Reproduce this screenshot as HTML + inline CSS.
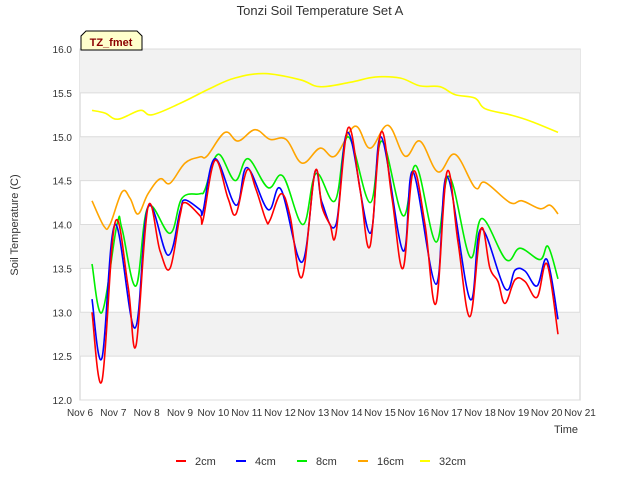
<!DOCTYPE html>
<html><head><meta charset="utf-8"><style>
body{margin:0;background:#fff;font-family:"Liberation Sans",sans-serif}
svg text{font-family:"Liberation Sans",sans-serif}
</style></head><body>
<svg id="c" width="640" height="480" xmlns="http://www.w3.org/2000/svg">
<text x="320" y="15" text-anchor="middle" font-size="13" fill="#333">Tonzi Soil Temperature Set A</text>
<g id="bands"></g><g id="grid"></g><g id="ticks"></g><g id="series"></g>
<text x="18" y="225" transform="rotate(-90 18 225)" text-anchor="middle" font-size="11" fill="#333">Soil Temperature (C)</text>
<text x="566" y="433" text-anchor="middle" font-size="11" fill="#333">Time</text>
<g>
<path d="M81,50 L81,36 L86,31 L137,31 L142,36 L142,50 Z" fill="#ffffcc" stroke="#000" stroke-width="1"/>
<text x="111" y="46" text-anchor="middle" font-size="11" font-weight="bold" fill="#8b0000">TZ_fmet</text>
</g>
<g id="legend"></g>
</svg>
<script>
const NS="http://www.w3.org/2000/svg";
const yTicks=[12.0,12.5,13.0,13.5,14.0,14.5,15.0,15.5,16.0];
const xTickLabels=["Nov 6","Nov 7","Nov 8","Nov 9","Nov 10","Nov 11","Nov 12","Nov 13","Nov 14","Nov 15","Nov 16","Nov 17","Nov 18","Nov 19","Nov 20","Nov 21"];
const xTickDays=[6,7,8,9,10,11,12,13,14,15,16,17,18,19,20,21];
const seriesNames=["2cm","4cm","8cm","16cm","32cm"];
const seriesColors=["#ff0000","#0000ff","#00ee00","#ffa500","#ffff00"];
const t2=[6.36,6.66,7.05,7.44,7.68,8.04,8.4,8.7,9.0,9.15,9.6,9.69,10.05,10.44,10.68,11.01,11.28,11.58,11.7,12.03,12.3,12.66,13.05,13.26,13.5,13.68,14.04,14.4,14.7,15.03,15.36,15.69,15.99,16.35,16.68,17.01,17.34,17.7,18.03,18.3,18.54,18.75,19.05,19.35,19.71,20.01,20.34];
const v2=[13.0,12.22,14.02,13.3,12.62,14.2,13.7,13.5,14.1,14.25,14.1,14.05,14.73,14.3,14.12,14.62,14.4,14.05,14.05,14.35,14.1,13.4,14.6,14.2,14.0,13.9,15.1,14.4,13.75,15.05,14.3,13.5,14.6,14.0,13.1,14.6,13.8,12.95,13.95,13.5,13.35,13.1,13.37,13.35,13.17,13.55,12.75];
const t4=[6.36,6.66,7.05,7.65,8.04,8.64,9.0,9.15,9.6,9.69,10.05,10.68,11.01,11.64,12.03,12.66,13.05,13.26,13.68,14.04,14.7,15.03,15.69,15.99,16.68,17.01,17.7,18.03,18.75,19.05,19.35,19.71,20.01,20.34];
const v4=[13.15,12.48,14.0,12.82,14.2,13.65,14.15,14.28,14.17,14.15,14.75,14.22,14.65,14.17,14.4,13.57,14.6,14.25,14.0,15.05,13.9,15.0,13.7,14.6,13.32,14.55,13.15,13.95,13.27,13.48,13.47,13.3,13.6,12.92];
const t8=[6.36,6.66,7.11,7.26,7.68,8.04,8.7,9.06,9.6,9.75,10.14,10.65,11.04,11.64,12.09,12.69,13.08,13.65,14.04,14.7,15.06,15.69,16.08,16.68,17.07,17.7,18.06,18.78,19.2,19.8,20.04,20.34];
const v8=[13.55,13.0,14.0,13.95,13.3,14.2,13.9,14.3,14.35,14.4,14.8,14.5,14.75,14.42,14.55,14.0,14.58,14.27,15.0,14.25,14.95,14.1,14.67,13.8,14.55,13.63,14.07,13.6,13.73,13.6,13.75,13.38];
const t16=[6.36,6.72,6.9,7.26,7.5,7.74,8.04,8.4,8.7,9.15,9.6,9.81,10.35,10.74,11.25,11.7,12.18,12.66,13.2,13.65,14.25,14.7,15.24,15.75,16.2,16.74,17.25,17.85,18.15,18.9,19.26,19.8,20.1,20.34];
const v16=[14.27,13.98,14.0,14.37,14.3,14.12,14.35,14.52,14.47,14.7,14.77,14.78,15.05,14.95,15.08,14.97,14.97,14.7,14.87,14.78,15.12,14.87,15.13,14.78,14.95,14.6,14.8,14.42,14.48,14.25,14.27,14.18,14.22,14.12];
const t32=[6.36,6.75,7.14,7.8,8.16,9.0,9.9,10.65,11.55,12.6,13.2,14.1,14.85,15.6,16.2,16.8,17.25,17.85,18.15,18.9,19.5,20.34];
const v32=[15.3,15.27,15.2,15.3,15.25,15.38,15.55,15.67,15.72,15.65,15.57,15.62,15.68,15.67,15.58,15.57,15.48,15.44,15.32,15.25,15.18,15.05];
const X0=80,X1=580,Y0=400,Y1=49,DMIN=6,DMAX=21,VMIN=12,VMAX=16;
const xs=d=>X0+(d-DMIN)/(DMAX-DMIN)*(X1-X0);
const ys=v=>Y0-(v-VMIN)/(VMAX-VMIN)*(Y0-Y1);
function mk(tag,attrs,parent){const e=document.createElementNS(NS,tag);for(const k in attrs)e.setAttribute(k,attrs[k]);parent.appendChild(e);return e;}
function smooth(p){
  let d='M'+p[0][0].toFixed(1)+','+p[0][1].toFixed(1);
  for(let i=0;i<p.length-1;i++){
    const a=p[Math.max(0,i-1)],b=p[i],c=p[i+1],e=p[Math.min(p.length-1,i+2)];
    const k=0.18;
    const c1=[b[0]+(c[0]-a[0])*k,b[1]+(c[1]-a[1])*k];
    const c2=[c[0]-(e[0]-b[0])*k,c[1]-(e[1]-b[1])*k];
    d+=' C'+c1.map(v=>v.toFixed(1)).join(',')+' '+c2.map(v=>v.toFixed(1)).join(',')+' '+c[0].toFixed(1)+','+c[1].toFixed(1);
  }
  return d;
}
const bands=document.getElementById('bands'),grid=document.getElementById('grid'),ticks=document.getElementById('ticks'),ser=document.getElementById('series'),leg=document.getElementById('legend');
mk('rect',{x:X0,y:Y1,width:X1-X0,height:Y0-Y1,fill:'#fff',stroke:'#ccc'},bands);
for(let i=0;i<yTicks.length-1;i++){
  if(i%2===1){const r=mk('rect',{x:X0,y:ys(yTicks[i+1]),width:X1-X0,height:ys(yTicks[i])-ys(yTicks[i+1]),fill:'#f2f2f2'},bands);
  
  }
}
yTicks.forEach(v=>{
  const l=mk('line',{x1:X0,x2:X1,y1:ys(v),y2:ys(v),stroke:'#dcdcdc'},grid);
  
  
  const t=mk('text',{x:X0-8,y:ys(v)+4,'text-anchor':'end','font-size':10,fill:'#333'},ticks);t.textContent=v.toFixed(1);
  
  
});
xTickDays.forEach((d,i)=>{
  const t=mk('text',{x:xs(d),y:416,'text-anchor':'middle','font-size':10,fill:'#333'},ticks);t.textContent=xTickLabels[i];
  
  
});
const T=[t2,t4,t8,t16,t32],V=[v2,v4,v8,v16,v32];
[4,3,2,1,0].forEach(i=>{
  const pts=T[i].map((d,j)=>[xs(d),ys(V[i][j])]);
  const p=mk('path',{d:smooth(pts),fill:'none',stroke:seriesColors[i],'stroke-width':1.6,'stroke-linejoin':'round'},ser);
  
  
});
const lx=[176,236,297,358,420];
seriesNames.forEach((n,i)=>{
  const g=mk('g',{},leg);
  
  
  mk('line',{x1:lx[i],x2:lx[i]+10,y1:461,y2:461,stroke:seriesColors[i],'stroke-width':2},g);
  const t=mk('text',{x:lx[i]+19,y:465,'font-size':11,fill:'#333'},g);t.textContent=n;
});
</script>
</body></html>
